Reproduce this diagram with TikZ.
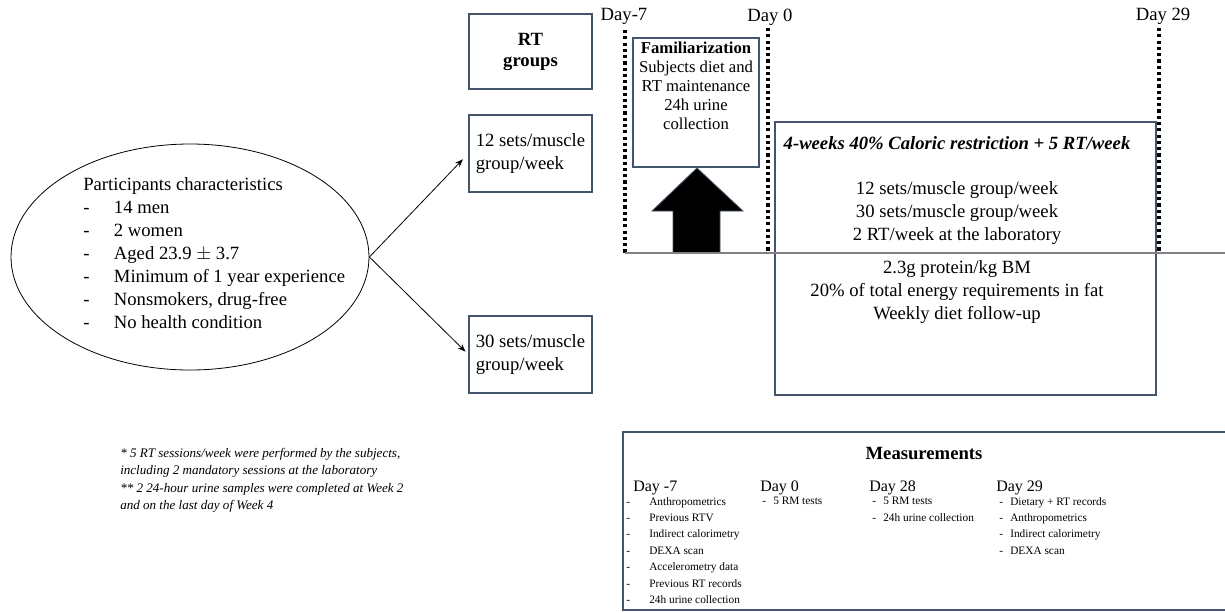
\documentclass[tikz,border=0pt]{standalone}
\usepackage{fontspec}
\setmainfont{Liberation Serif}
\usetikzlibrary{shapes.geometric, arrows.meta, positioning}
\definecolor{boxline}{RGB}{68,84,106}
\definecolor{axisgray}{RGB}{130,130,130}
\newcommand{\bigtext}{\fontsize{14}{17.25}\selectfont}
\newcommand{\famtext}{\fontsize{12.5}{14.25}\selectfont}
\newcommand{\itemtext}{\fontsize{8.5}{12.3}\selectfont}
\newcommand{\pitem}[1]{\makebox[23pt][l]{-}#1}
\newcommand{\mitem}[2][8.25pt]{\makebox[#1][l]{-}#2}

\begin{document}
\begin{tikzpicture}[x = 0.75pt, y = -0.75pt,
	groupbox/.style = {draw = boxline, line width = 0.9pt, minimum width = 92.25pt, minimum height = 57.75pt, inner sep = 0pt},
	dayline/.style = {line width = 2.5pt, dash pattern = on 2.4pt off 2.3pt},
	daylabel/.style = {font = \bigtext, inner sep = 0pt},
	link/.style = {-{Stealth[length = 6pt, width = 4.5pt]}, line width = 0.6pt},
	daycol/.style = {anchor = north west, align = left, inner sep = 0pt, font = \itemtext},
	dayhead/.style = {anchor = west, inner sep = 0pt, font = \fontsize{12}{14}\selectfont}]
	\useasboundingbox (0, 0) rectangle (1225, 612);

	\node[draw, ellipse, line width = 0.6pt, minimum width = 268.5pt, minimum height = 169.5pt] (participants) at (190, 257) {};
	\node[anchor = north west, align = left, inner sep = 0pt, font = \bigtext] (partlist) at (83, 177) {Participants characteristics\\
		\pitem{14 men}\\
		\pitem{2 women}\\
		\pitem{Aged 23.9 $\pm$ 3.7}\\
		\pitem{Minimum of 1 year experience}\\
		\pitem{Nonsmokers, drug-free}\\
		\pitem{No health condition}};

	\node[groupbox, minimum height = 56.25pt, align = center, font = \bfseries\fontsize{14}{15.75}\selectfont] (rtgroups) at (530.5, 51.5) {RT\\groups};
	\node[groupbox, align = left, font = \bigtext] (g12) at (530.5, 153.5) {12 sets/muscle\\group/week};
	\node[groupbox, align = left, font = \bigtext] (g30) at (530.5, 354.5) {30 sets/muscle\\group/week};
	\draw[link, shorten > = 6pt] (participants.east) -- (g12.west);
	\draw[link, shorten > = 3pt] (participants.east) -- (g30.west);

	\draw[dayline] (625, 30) -- (625, 253);
	\draw[dayline] (768, 28) -- (768, 253);
	\draw[dayline] (1159, 28) -- (1159, 253);
	\node[daylabel] (dayminus7) at (624, 16) {Day-7};
	\node[daylabel] (dayzero) at (770, 17) {Day 0};
	\node[daylabel] (daytwentynine) at (1163, 16) {Day 29};

	\node[draw = boxline, line width = 0.9pt, minimum width = 94.5pt, minimum height = 96.75pt, inner sep = 0pt] (famil) at (696, 102.5) {};
	\node[below = 0pt of famil.north, align = center, font = \famtext] (familtext) {\textbf{Familiarization}\\Subjects diet and\\RT maintenance\\24h urine\\collection};
	\filldraw[fill = black, draw = boxline, line width = 0.6pt] (697, 168) -- (743, 211) -- (720, 211) -- (720, 253) -- (673, 253) -- (673, 211) -- (652, 211) -- cycle;

	\node[draw = boxline, line width = 0.9pt, minimum width = 285.75pt, minimum height = 204.75pt, inner sep = 0pt] (crbox) at (965.5, 258.5) {};
	\draw[axisgray, line width = 1.3pt] (625, 253) -- (1225, 253);
	\node[font = \bfseries\itshape\bigtext] (crtitle) at (957, 143) {4-weeks 40\% Caloric restriction + 5 RT/week};
	\node[align = center, font = \fontsize{14}{16.9}\selectfont] (crtrain) at (957, 213) {12 sets/muscle group/week\\30 sets/muscle group/week\\2 RT/week at the laboratory};
	\node[align = center, font = \fontsize{14}{16.9}\selectfont] (crdiet) at (957, 292) {2.3g protein/kg BM\\20\% of total energy requirements in fat\\Weekly diet follow-up};

	\node[anchor = north west, align = left, inner sep = 0pt, font = \itshape\fontsize{9.8}{13}\selectfont] (notes) at (120, 448) {* 5 RT sessions/week were performed by the subjects,\\
		including 2 mandatory sessions at the laboratory\\
		** 2 24-hour urine samples were completed at Week 2\\
		and on the last day of Week 4};

	\node[draw = boxline, line width = 0.9pt, minimum width = 453.75pt, minimum height = 133.5pt, inner sep = 0pt] (meas) at (925.5, 521) {};
	\node[font = \bfseries\fontsize{14}{16}\selectfont] (meastitle) at (924, 453) {Measurements};
	\node[dayhead] (headminus7) at (633, 488) {Day -7};
	\node[dayhead] (headzero) at (760, 488) {Day 0};
	\node[dayhead] (headtwentyeight) at (869, 488) {Day 28};
	\node[dayhead] (headtwentynine) at (996, 488) {Day 29};
	\node[daycol] (listminus7) at (626, 497) {\mitem[17.25pt]{Anthropometrics}\\\mitem[17.25pt]{Previous RTV}\\\mitem[17.25pt]{Indirect calorimetry}\\\mitem[17.25pt]{DEXA scan}\\\mitem[17.25pt]{Accelerometry data}\\\mitem[17.25pt]{Previous RT records}\\\mitem[17.25pt]{24h urine collection}};
	\node[daycol] (listzero) at (762, 497) {\mitem{5 RM tests}};
	\node[daycol] (listtwentyeight) at (872, 497) {\mitem{5 RM tests}\\\mitem{24h urine collection}};
	\node[daycol] (listtwentynine) at (999, 497) {\mitem{Dietary + RT records}\\\mitem{Anthropometrics}\\\mitem{Indirect calorimetry}\\\mitem{DEXA scan}};
\end{tikzpicture}
\end{document}
